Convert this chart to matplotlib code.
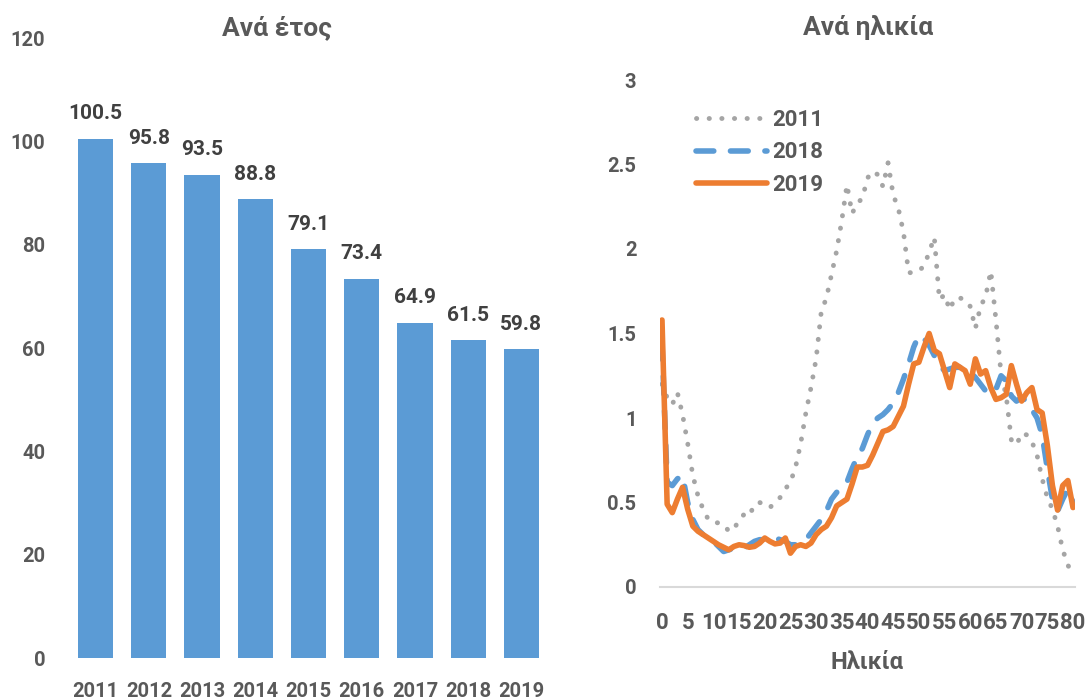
import matplotlib
matplotlib.use("Agg")
import matplotlib.pyplot as plt

plt.rcParams['font.family'] = ['Roboto', 'DejaVu Sans']

# ---- data: rate per year ----
years = ['2011', '2012', '2013', '2014', '2015', '2016', '2017', '2018', '2019']
rate_by_year = [100.5, 95.8, 93.5, 88.8, 79.1, 73.4, 64.9, 61.5, 59.8]

# ---- data: rate per age (0..80) ----
ages = list(range(81))
rate_2011 = [1.20, 1.12, 1.08, 1.15, 1.02, 0.85, 0.66, 0.54, 0.46, 0.40,
             0.38, 0.38, 0.37, 0.33, 0.34, 0.40, 0.43, 0.42, 0.49, 0.50,
             0.49, 0.47, 0.50, 0.53, 0.58, 0.62, 0.71, 0.85, 1.03, 1.18,
             1.35, 1.63, 1.71, 1.85, 1.99, 2.17, 2.38, 2.21, 2.27, 2.30,
             2.42, 2.46, 2.44, 2.37, 2.51, 2.32, 2.24, 2.10, 1.86, 1.86,
             1.87, 1.90, 1.98, 2.07, 1.70, 1.73, 1.64, 1.71, 1.71, 1.70,
             1.66, 1.53, 1.66, 1.72, 1.87, 1.58, 1.26, 1.13, 0.87, 0.84,
             0.91, 0.90, 0.86, 0.78, 0.64, 0.53, 0.46, 0.36, 0.22, 0.13,
             0.07]
rate_2018 = [1.45, 0.62, 0.60, 0.64, 0.66, 0.50, 0.40, 0.34, 0.31, 0.29,
             0.27, 0.24, 0.21, 0.22, 0.23, 0.23, 0.23, 0.25, 0.27, 0.28,
             0.28, 0.28, 0.29, 0.28, 0.27, 0.25, 0.25, 0.26, 0.28, 0.32,
             0.36, 0.40, 0.45, 0.52, 0.56, 0.58, 0.62, 0.70, 0.77, 0.82,
             0.90, 0.97, 1.00, 1.02, 1.05, 1.09, 1.15, 1.23, 1.32, 1.42,
             1.49, 1.47, 1.43, 1.37, 1.31, 1.28, 1.29, 1.30, 1.30, 1.29,
             1.27, 1.24, 1.20, 1.16, 1.14, 1.17, 1.25, 1.22, 1.13, 1.10,
             1.12, 1.10, 1.05, 1.00, 0.90, 0.70, 0.52, 0.45, 0.52, 0.58,
             0.50]
rate_2019 = [1.58, 0.49, 0.44, 0.52, 0.59, 0.46, 0.36, 0.33, 0.31, 0.29,
             0.27, 0.25, 0.235, 0.22, 0.24, 0.25, 0.245, 0.235, 0.24, 0.26,
             0.29, 0.27, 0.255, 0.26, 0.29, 0.20, 0.24, 0.25, 0.24, 0.26,
             0.31, 0.34, 0.36, 0.41, 0.48, 0.50, 0.52, 0.61, 0.71, 0.71,
             0.72, 0.78, 0.85, 0.92, 0.93, 0.95, 1.01, 1.07, 1.20, 1.32,
             1.33, 1.42, 1.50, 1.40, 1.38, 1.28, 1.18, 1.32, 1.30, 1.28,
             1.20, 1.35, 1.26, 1.28, 1.18, 1.11, 1.12, 1.14, 1.31, 1.20,
             1.10, 1.15, 1.18, 1.05, 1.03, 0.84, 0.60, 0.455, 0.60, 0.63,
             0.47]
age_ticks = list(range(0, 81, 5))

BLUE = '#5B9BD5'
ORANGE = '#ED7D31'
GREY = '#A5A5A5'
TXT = '#595959'
VAL = '#404040'
FS = 14.5

W, H = 1086, 699
fig = plt.figure(figsize=(W / 100, H / 100), dpi=100)

# ---- left panel: bars per year ----
axl = fig.add_axes([69 / W, (H - 658) / H, 479 / W, 620 / H])
xpos = range(len(years))
bars = axl.bar(xpos, rate_by_year, width=0.66, color=BLUE)
for rect, v in zip(bars, rate_by_year):
    axl.annotate(f'{v:.1f}', (rect.get_x() + rect.get_width() / 2, v),
                 xytext=(0, 25), textcoords='offset pixels',
                 ha='center', va='center', fontsize=FS + 0.5,
                 fontweight='bold', color=VAL)
axl.set_xlim(-0.5, len(years) - 0.5)
axl.set_ylim(0, 120)
axl.set_yticks(range(0, 121, 20))
axl.set_xticks(list(xpos))
axl.set_xticklabels(years)
for s in axl.spines.values():
    s.set_visible(False)
axl.tick_params(axis='both', length=0, labelsize=FS, labelcolor=TXT)
axl.tick_params(axis='y', pad=17)
axl.tick_params(axis='x', pad=17)
for lab in axl.get_xticklabels() + axl.get_yticklabels():
    lab.set_fontweight('bold')
fig.text(277 / W, 1 - 28 / H, 'Ανά έτος', ha='center', va='center',
         fontsize=19, fontweight='bold', color=TXT)

# ---- right panel: lines per age ----
axr = fig.add_axes([660 / W, (H - 587) / H, 415 / W, 507 / H])
axr.plot(ages, rate_2011, color=GREY, lw=3.5, linestyle=(0, (0.05, 2.55)),
         dash_capstyle='round', label='2011')
axr.plot(ages, rate_2018, color=BLUE, lw=4.0, linestyle=(0, (3.2, 3.0)),
         dash_capstyle='round', dash_joinstyle='round', label='2018')
axr.plot(ages, rate_2019, color=ORANGE, lw=4.0, solid_capstyle='round',
         solid_joinstyle='round', label='2019')
axr.set_xlim(-0.39, 80.39)
axr.set_ylim(0, 3)
axr.set_yticks([0, 0.5, 1, 1.5, 2, 2.5, 3])
axr.set_yticklabels(['0', '0.5', '1', '1.5', '2', '2.5', '3'])
axr.set_xticks(age_ticks)
for s in ['top', 'right', 'left']:
    axr.spines[s].set_visible(False)
axr.spines['bottom'].set_color('#D9D9D9')
axr.spines['bottom'].set_linewidth(1.5)
axr.tick_params(axis='both', length=0, labelcolor=TXT)
axr.tick_params(axis='y', pad=17, labelsize=FS)
axr.tick_params(axis='x', pad=18, labelsize=16)
for lab in axr.get_xticklabels() + axr.get_yticklabels():
    lab.set_fontweight('bold')
axr.set_xlabel('Ηλικία', fontsize=17, fontweight='bold', color=TXT,
               labelpad=12)
fig.text(868 / W, 1 - 28 / H, 'Ανά ηλικία', ha='center', va='center',
         fontsize=19, fontweight='bold', color=TXT)
leg = axr.legend(loc='upper left', bbox_to_anchor=(0.065, 0.96),
                 frameon=False, handlelength=3.2, handletextpad=0.25,
                 labelspacing=0.46, borderaxespad=0,
                 prop={'size': 16, 'weight': 'bold'})
for t in leg.get_texts():
    t.set_color(TXT)

fig.savefig('out.png', dpi=100)
